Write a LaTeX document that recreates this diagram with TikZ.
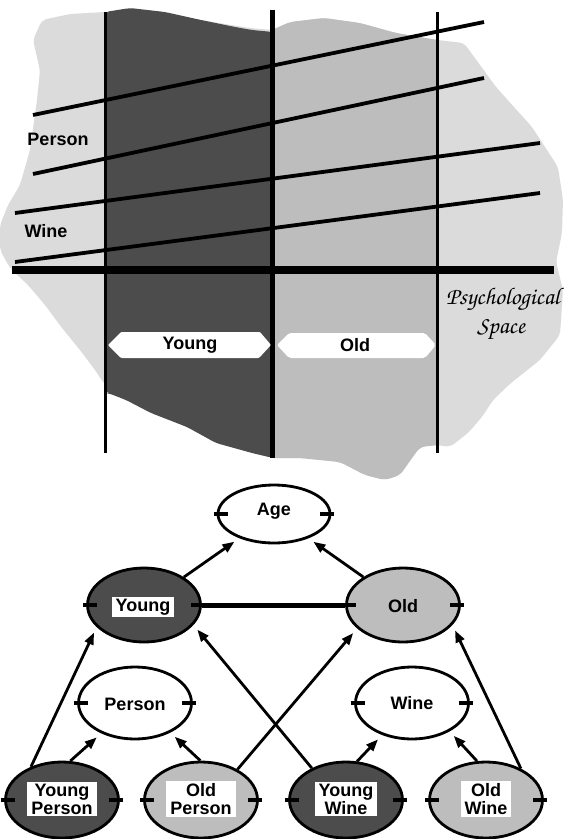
\documentclass[tikz,border=0pt]{standalone}
\usepackage[T1]{fontenc}
\usepackage{fontspec}
\setmainfont{Liberation Sans}
\usetikzlibrary{shapes.geometric,arrows.meta}

\definecolor{blobgray}{gray}{0.86}
\definecolor{colgray}{gray}{0.74}
\definecolor{deepgray}{gray}{0.30}

% script face for the space caption
\newcommand\chancery{\fontencoding{T1}\fontfamily{pzc}\fontseries{mb}\fontshape{it}\selectfont}

% short bars at the left and right of a concept ellipse
\newcommand\sidebars[1]{%
  \draw[sidebar] ([xshift=-3pt]#1.west) -- ([xshift=11pt]#1.west);
  \draw[sidebar] ([xshift=3pt]#1.east) -- ([xshift=-11pt]#1.east);}

% outline of the shaded psychological space
\def\spaceblob{(105,12) -- (70,14) -- (42,20) -- (33,40) -- (40,70) -- (37,100)
  -- (30,150) -- (20,185) -- (8,205) -- (0,225) -- (0,250) -- (10,268) -- (28,285)
  -- (45,305) -- (62,328) -- (80,350) -- (95,370) -- (105,385) -- (272,458)
  -- (300,458) -- (340,462) -- (365,475) -- (385,480) -- (400,475) -- (412,458)
  -- (420,447) -- (437,445) -- (450,447) -- (468,433) -- (482,417) -- (493,400)
  -- (511,383) -- (540,360) -- (560,335) -- (563,290) -- (556,262) -- (562,233)
  -- (563,200) -- (558,167) -- (532,127) -- (496,87) -- (464,43) -- (437,40)
  -- (396,33) -- (360,23) -- (324,18) -- (290,22) -- (272,30) -- (250,28)
  -- (200,20) -- (130,10) -- cycle}

\begin{document}
\begin{tikzpicture}[x=1pt,y=-1pt,
  lbl/.style={font=\bfseries\fontsize{18}{18}\selectfont, inner sep=0pt},
  axis/.style={line width=3pt},
  dimline/.style={line width=3.8pt},
  ell/.style={ellipse, draw, line width=2.8pt, inner sep=0pt,
    minimum width=113pt, minimum height=74pt},
  darkell/.style={ell, fill=deepgray},
  lightell/.style={ell, fill=colgray},
  nodetxt/.style={font=\bfseries\fontsize{18}{18}\selectfont, align=center,
    inner xsep=4pt, inner ysep=2pt},
  boxtxt/.style={nodetxt, fill=white},
  sidebar/.style={line width=4.5pt},
  arr/.style={line width=2.8pt, shorten >=6pt,
    -{Triangle[length=12pt,width=9pt]}}]

\useasboundingbox (0,0) rectangle (564,839);

% ---------- psychological space ----------
\fill[blobgray, rounded corners=5pt] \spaceblob;
\begin{scope}
  \clip[rounded corners=5pt] \spaceblob;
  \fill[colgray] (272,0) rectangle (437,500);
\end{scope}
\fill[deepgray, rounded corners=4pt] (105,12) -- (130,8) -- (165,12) -- (201,20)
  -- (235,27) -- (252,30) -- (273,32) -- (273,458) -- (252,453) -- (216,443)
  -- (187,427) -- (151,413) -- (126,400) -- (108,393) -- (105,393) -- cycle;

% category boundaries
\draw[axis] (105,12) -- (105,453);
\draw[line width=5pt] (272,10) -- (272,458);
\draw[axis] (437,12) -- (437,453);

% person and wine dimensions
\draw[dimline] (33,115) -- (484,22);
\draw[dimline] (33,174) -- (484,78);
\draw[dimline] (15,213) -- (540,143);
\draw[dimline] (15,262) -- (540,193);
\draw[line width=8pt] (12,270) -- (554,270);

% category tags
\fill[white, rounded corners=1pt] (108,345) -- (121,332) -- (260,332) -- (271,345)
  -- (259,358) -- (121,358) -- cycle;
\fill[white, rounded corners=2pt] (277,345) -- (289,333) -- (425,333) -- (436,345)
  -- (425,358) -- (289,358) -- cycle;
\node[lbl] (tagyoung) at (190,345) {Young};
\node[lbl] (tagold) at (355,345) {Old};

\node[lbl] (axperson) at (58,139) {Person};
\node[lbl] (axwine) at (46,231) {Wine};

\node[inner sep=0pt, font=\chancery\fontsize{24}{26}\selectfont] (psy) at (503,300) {Psychological};
\node[inner sep=0pt, font=\chancery\fontsize{24}{26}\selectfont] (spc) at (501,330) {Space};

% ---------- concept network ----------
\node[ell, minimum height=58pt, minimum width=112pt] (age) at (274,514) {};
\node[darkell] (young) at (144,605) {};
\node[lightell] (old) at (403,605) {};
\node[ell, minimum height=72pt] (person) at (135,703) {};
\node[ell, minimum height=72pt] (wine) at (412,703) {};
\node[darkell, minimum height=76pt] (yp) at (62,800) {};
\node[lightell, minimum height=76pt] (op) at (201,800) {};
\node[darkell, minimum height=76pt] (yw) at (346,800) {};
\node[lightell, minimum height=76pt] (ow) at (486,800) {};

\draw[line width=5pt] (young.east) -- (old.west);

\foreach \n in {age,young,old,person,wine,yp,op,yw,ow}{\sidebars{\n}}

\node[nodetxt] (agetxt) at (274,511) {Age};
\node[boxtxt] (youngtxt) at (143,607) {Young};
\node[nodetxt] (oldtxt) at (403,606) {Old};
\node[nodetxt] (persontxt) at (135,704) {Person};
\node[nodetxt] (winetxt) at (412,703) {Wine};
\node[boxtxt] (yptxt) at (62,799) {Young\\Person};
\node[boxtxt] (optxt) at (201,799) {Old\\Person};
\node[boxtxt] (ywtxt) at (346,799) {Young\\Wine};
\node[boxtxt] (owtxt) at (486,799) {Old\\Wine};

% is-a links
\draw[arr] (young) -- (age);
\draw[arr] (old) -- (age);
\draw[arr] (yp.133) -- (young.205);
\draw[arr] (yp.78) -- (person.222);
\draw[arr] (op.91) -- (person.320);
\draw[arr] (op.40) -- (old.207);
\draw[arr] (yw.137) -- (young.338);
\draw[arr] (yw.74) -- (wine.227);
\draw[arr] (ow.103) -- (wine.323);
\draw[arr] (ow.42) -- (old.338);
\end{tikzpicture}
\end{document}
